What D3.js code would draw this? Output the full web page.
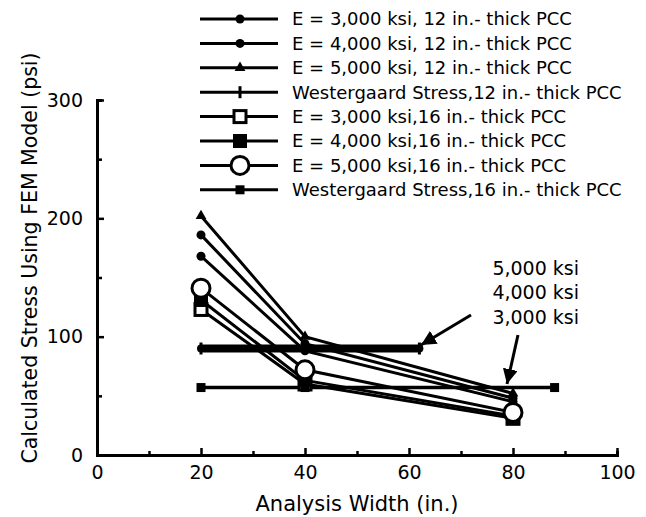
<!DOCTYPE html>
<html>
<head>
<meta charset="utf-8">
<script src="https://cdn.jsdelivr.net/npm/d3@7"></script>
<style>
  body { margin: 0; background: #fff; }
  text { font-family: "DejaVu Sans", sans-serif; fill: #000; }
</style>
</head>
<body>
<div id="chart"></div>
<script>
// analysis widths (in.) and stresses (psi)
const widths = [20, 40, 80];
const e3000_12 = [168, 88, 45];
const e4000_12 = [186, 94, 48];
const e5000_12 = [202, 100, 52];
const westX12 = [20, 40, 62];
const west12 = [90, 90, 90];
const e3000_16 = [123, 60, 31];
const e4000_16 = [131, 63, 33];
const e5000_16 = [141, 72, 36];
const westX16 = [20, 40, 88];
const west16 = [57, 57, 57];

const legendLabels = [
    'E = 3,000 ksi, 12 in.- thick PCC',
    'E = 4,000 ksi, 12 in.- thick PCC',
    'E = 5,000 ksi, 12 in.- thick PCC',
    'Westergaard Stress,12 in.- thick PCC',
    'E = 3,000 ksi,16 in.- thick PCC',
    'E = 4,000 ksi,16 in.- thick PCC',
    'E = 5,000 ksi,16 in.- thick PCC',
    'Westergaard Stress,16 in.- thick PCC'
];
const xTicks = [0, 20, 40, 60, 80, 100];
const yTicks = [0, 100, 200, 300];
const noteLabels = ['5,000 ksi', '4,000 ksi', '3,000 ksi'];

const width = 646, height = 517;
const margin = {left: 97, right: 29, top: 100, bottom: 62};

const series = [
    {xs: widths, ys: e3000_12, sym: 'dot', w: 3},
    {xs: widths, ys: e4000_12, sym: 'dot', w: 3},
    {xs: widths, ys: e5000_12, sym: 'tri', w: 3},
    {xs: westX12, ys: west12, sym: 'plus', w: 8},
    {xs: widths, ys: e3000_16, sym: 'osq', w: 3},
    {xs: widths, ys: e4000_16, sym: 'sq', w: 3},
    {xs: widths, ys: e5000_16, sym: 'ocirc', w: 3},
    {xs: westX16, ys: west16, sym: 'ssq', w: 3.5}
];

const svg = d3.select('#chart').append('svg')
    .attr('width', width)
    .attr('height', height);

const x = d3.scaleLinear().domain([0, 100]).range([margin.left, width - margin.right]);
const y = d3.scaleLinear().domain([0, 300]).range([height - margin.bottom, margin.top]);

function drawMarker(g, sym, cx, cy) {
    if (sym === 'dot') {
        g.append('circle').attr('cx', cx).attr('cy', cy).attr('r', 4.5).attr('fill', '#000');
    } else if (sym === 'tri') {
        g.append('path').attr('d', d3.symbol(d3.symbolTriangle, 50)())
            .attr('transform', `translate(${cx},${cy})`).attr('fill', '#000');
    } else if (sym === 'plus') {
        g.append('line').attr('x1', cx).attr('x2', cx).attr('y1', cy - 6).attr('y2', cy + 6)
            .attr('stroke', '#000').attr('stroke-width', 3);
    } else if (sym === 'osq') {
        g.append('rect').attr('x', cx - 6).attr('y', cy - 6).attr('width', 12).attr('height', 12)
            .attr('fill', '#fff').attr('stroke', '#000').attr('stroke-width', 3);
    } else if (sym === 'sq') {
        g.append('rect').attr('x', cx - 7).attr('y', cy - 7).attr('width', 14).attr('height', 14)
            .attr('fill', '#000');
    } else if (sym === 'ocirc') {
        g.append('circle').attr('cx', cx).attr('cy', cy).attr('r', 9)
            .attr('fill', '#fff').attr('stroke', '#000').attr('stroke-width', 3);
    } else if (sym === 'ssq') {
        g.append('rect').attr('x', cx - 4.5).attr('y', cy - 4.5).attr('width', 9).attr('height', 9)
            .attr('fill', '#000');
    }
}

// axes
const axisG = svg.append('g');
const xAxis = d3.axisBottom(x).tickValues(xTicks).tickSizeInner(-7).tickSizeOuter(0).tickPadding(9);
const xMinor = d3.axisBottom(x).tickValues(d3.range(10, 100, 20)).tickSize(-4).tickFormat('');
const yAxis = d3.axisLeft(y).tickValues(yTicks).tickSizeInner(-7).tickSizeOuter(0).tickPadding(14);
const yMinor = d3.axisLeft(y).tickValues([50, 150, 250]).tickSize(-5).tickFormat('');

axisG.append('g').attr('transform', `translate(0,${y(0)})`).call(xMinor);
axisG.append('g').attr('transform', `translate(0,${y(0)})`).call(xAxis)
    .call(g => g.selectAll('text').attr('font-size', 19).attr('dy', '0.8em'));
axisG.append('g').attr('transform', `translate(${x(0)},0)`).call(yMinor);
axisG.append('g').attr('transform', `translate(${x(0)},0)`).call(yAxis)
    .call(g => g.selectAll('text').attr('font-size', 19));
axisG.selectAll('.domain').attr('stroke', '#000').attr('stroke-width', 3);
axisG.selectAll('.tick line').attr('stroke', '#000').attr('stroke-width', 2.5);

// series
const line = d3.line().x(d => x(d[0])).y(d => y(d[1]));
const plot = svg.append('g');
series.forEach(s => {
    const pts = s.xs.map((v, i) => [v, s.ys[i]]);
    plot.append('path').attr('d', line(pts))
        .attr('fill', 'none').attr('stroke', '#000')
        .attr('stroke-width', s.w).attr('stroke-linecap', 'round');
});
series.forEach(s => {
    s.xs.forEach((v, i) => drawMarker(plot, s.sym, x(v), y(s.ys[i])));
});

// legend
const legend = svg.append('g');
legendLabels.forEach((lab, i) => {
    const ly = 19 + i * 24.4;
    legend.append('line').attr('x1', 200).attr('x2', 278).attr('y1', ly).attr('y2', ly)
        .attr('stroke', '#000').attr('stroke-width', 3);
    drawMarker(legend, series[i].sym, 240, ly);
    legend.append('text').attr('x', 292).attr('y', ly).attr('dy', '0.36em')
        .attr('font-size', 18).text(lab);
});

// annotation
const note = svg.append('g');
noteLabels.forEach((t, i) => {
    note.append('text').attr('x', 579).attr('y', 268 + i * 24.5).attr('dy', '0.36em')
        .attr('text-anchor', 'end').attr('font-size', 19).text(t);
});
svg.append('defs').append('marker')
    .attr('id', 'arr').attr('viewBox', '0 0 10 10').attr('refX', 10).attr('refY', 5)
    .attr('markerWidth', 5).attr('markerHeight', 5).attr('orient', 'auto')
    .append('path').attr('d', 'M0,0L10,5L0,10Z').attr('fill', '#000');
note.append('line').attr('x1', 471).attr('y1', 315).attr('x2', 421).attr('y2', 345)
    .attr('stroke', '#000').attr('stroke-width', 3).attr('marker-end', 'url(#arr)');
note.append('line').attr('x1', 518).attr('y1', 335).attr('x2', 507).attr('y2', 384)
    .attr('stroke', '#000').attr('stroke-width', 3).attr('marker-end', 'url(#arr)');

// axis titles
svg.append('text').attr('x', (x(0) + x(100)) / 2).attr('y', 503).attr('dy', '0.36em')
    .attr('text-anchor', 'middle').attr('font-size', 21).text('Analysis Width (in.)');
svg.append('text').attr('transform', `translate(30,${258}) rotate(-90)`).attr('dy', '0.36em')
    .attr('text-anchor', 'middle').attr('font-size', 20.5).text('Calculated Stress Using FEM Model (psi)');
</script>
</body>
</html>
